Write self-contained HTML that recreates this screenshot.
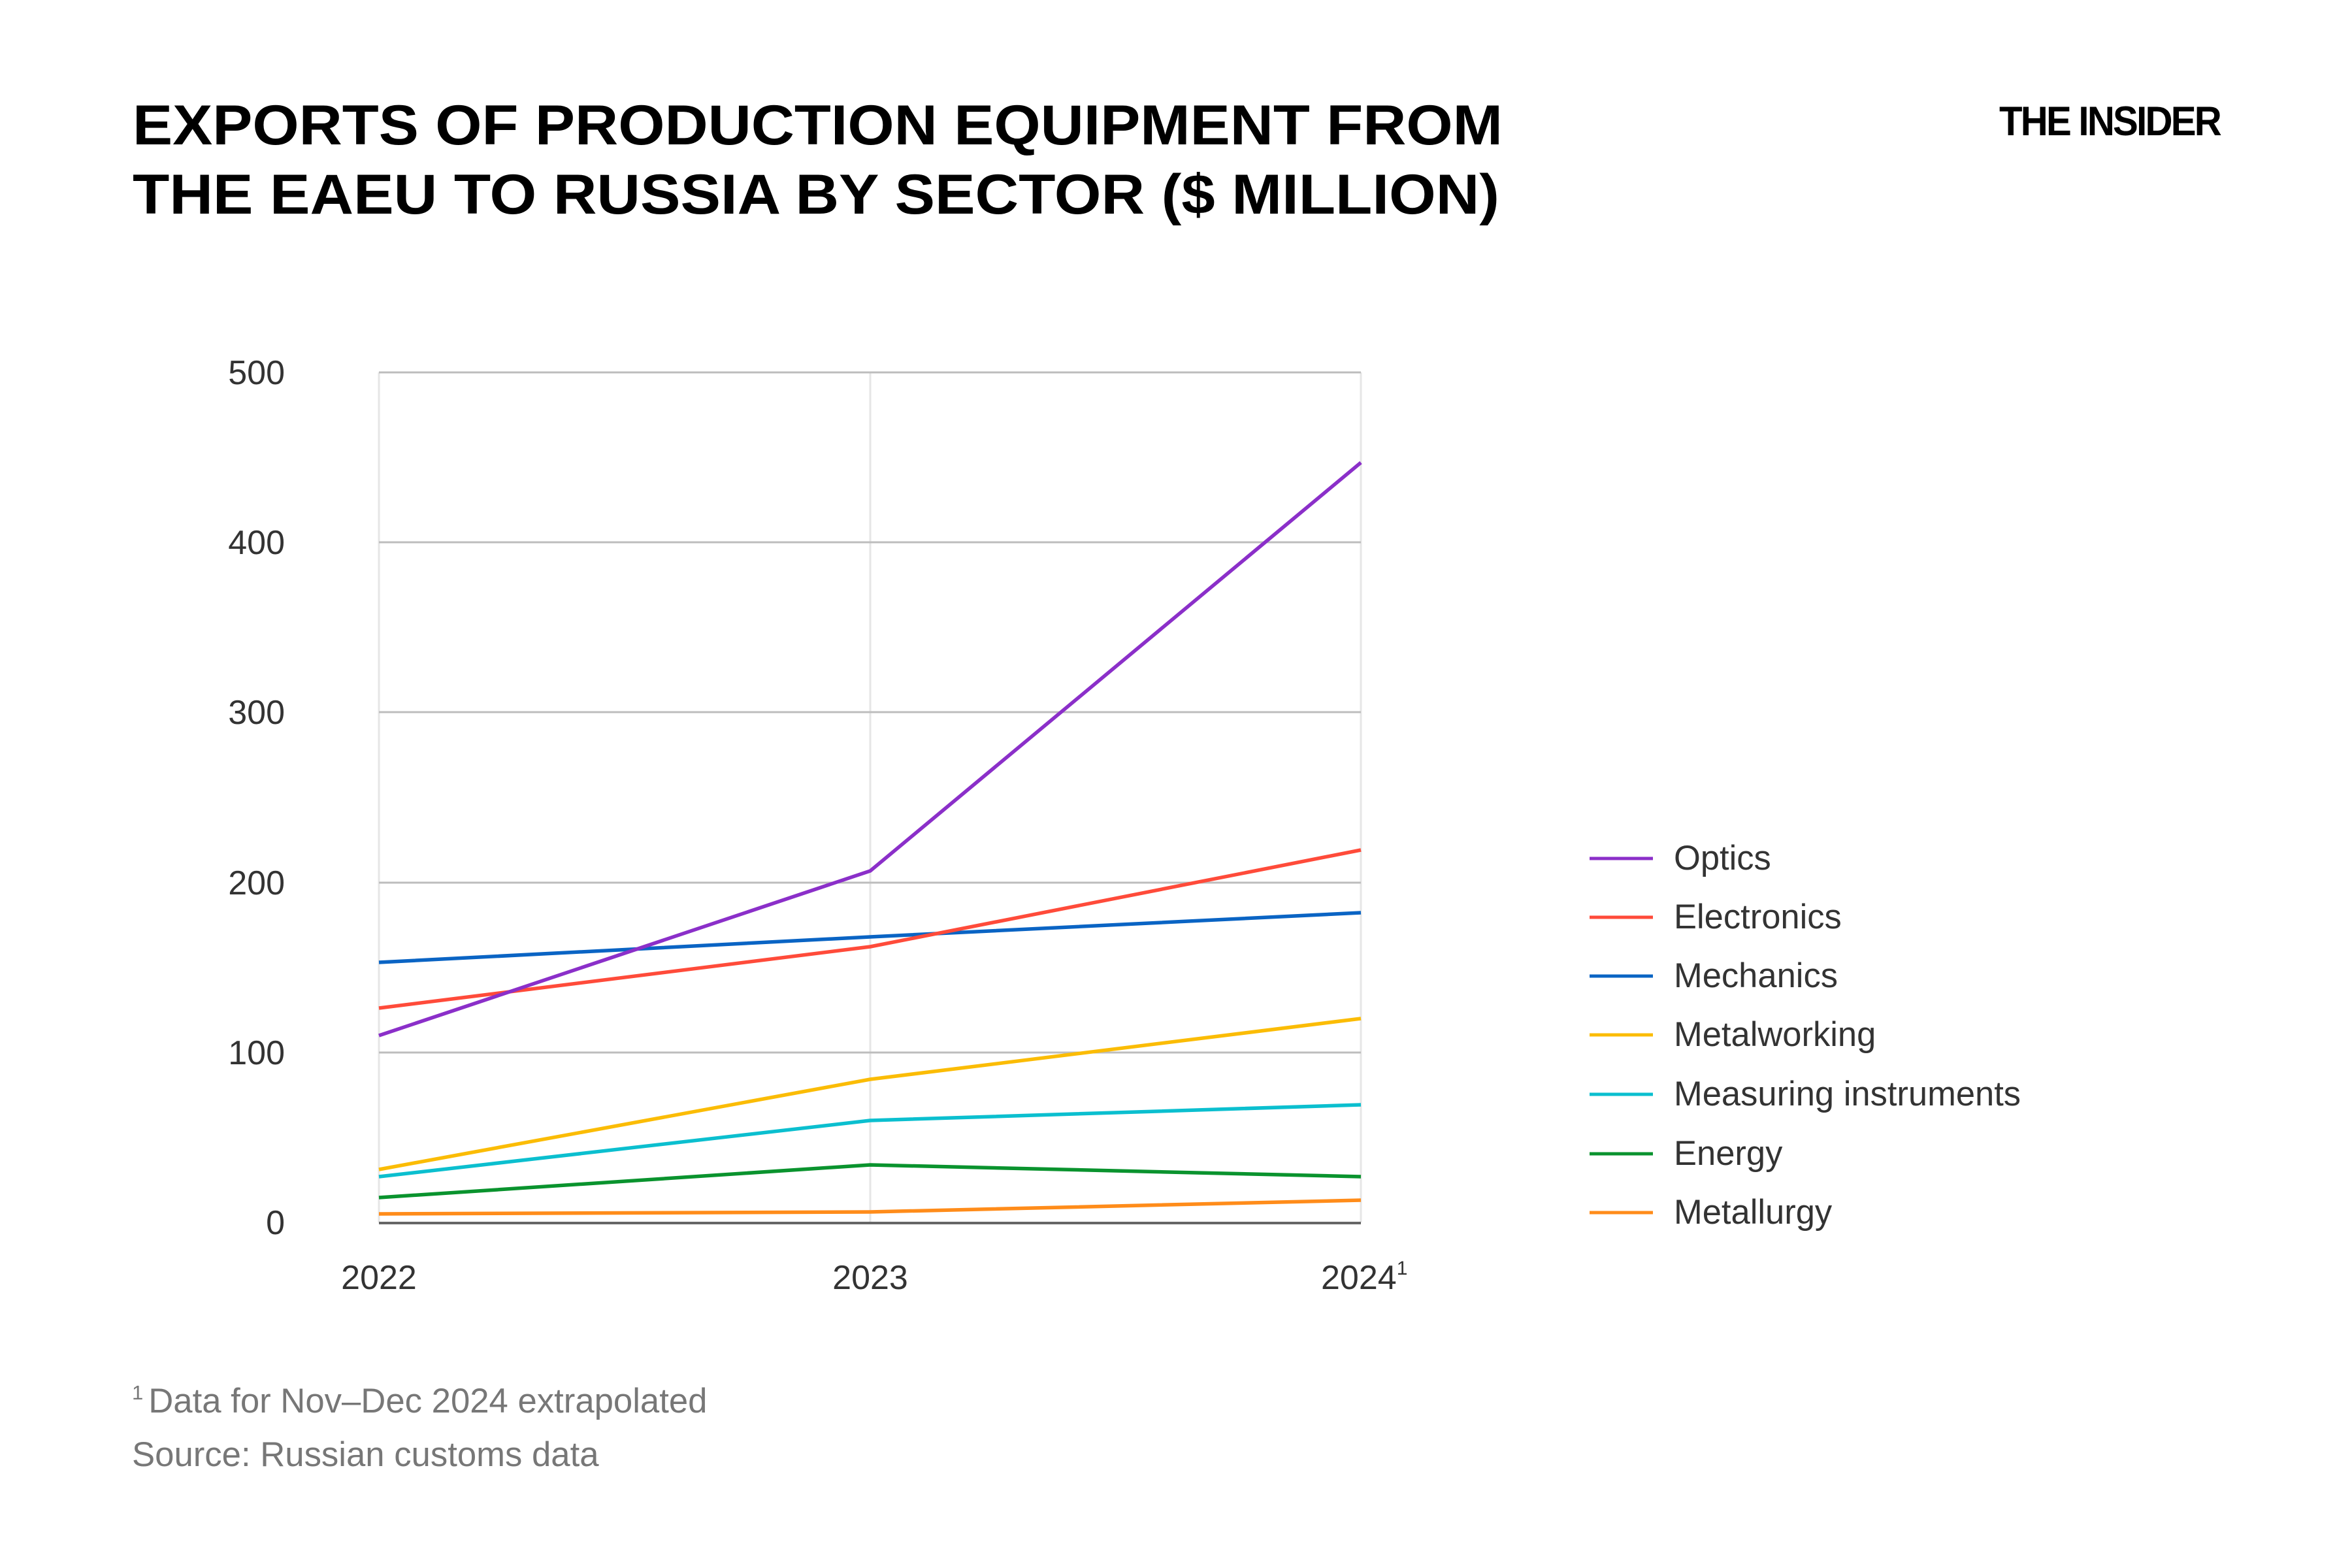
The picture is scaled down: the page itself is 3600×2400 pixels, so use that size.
<!DOCTYPE html>
<html><head><meta charset="utf-8"><style>
html,body{margin:0;padding:0;background:#fff;}
svg{display:block;}
</style></head><body>
<svg width="3600" height="2400" viewBox="0 0 3600 2400" xmlns="http://www.w3.org/2000/svg" font-family="Liberation Sans, Arial, sans-serif">
<rect width="3600" height="2400" fill="#fff"/>
<text x="203" y="221" font-size="86" font-weight="bold" fill="#000" textLength="2097" lengthAdjust="spacingAndGlyphs">EXPORTS OF PRODUCTION EQUIPMENT FROM</text>
<text x="203" y="327" font-size="86" font-weight="bold" fill="#000" textLength="2092" lengthAdjust="spacingAndGlyphs">THE EAEU TO RUSSIA BY SECTOR ($ MILLION)</text>
<text x="3060" y="207" font-size="63" font-weight="bold" fill="#000" textLength="338" lengthAdjust="spacingAndGlyphs" letter-spacing="-3">THE INSIDER</text>

<g stroke="#e6e6e6" stroke-width="3">
<line x1="580" y1="570" x2="580" y2="1871"/>
<line x1="1332" y1="570" x2="1332" y2="1871"/>
<line x1="2083" y1="570" x2="2083" y2="1871"/>
</g>
<g stroke="#bdbdbd" stroke-width="3">
<line x1="580" y1="570" x2="2083" y2="570"/>
<line x1="580" y1="830" x2="2083" y2="830"/>
<line x1="580" y1="1090" x2="2083" y2="1090"/>
<line x1="580" y1="1351" x2="2083" y2="1351"/>
<line x1="580" y1="1611" x2="2083" y2="1611"/>
</g>
<line x1="580" y1="1872" x2="2083" y2="1872" stroke="#666" stroke-width="4"/>

<g font-size="52" fill="#333" text-anchor="end">
<text x="436" y="588">500</text>
<text x="436" y="848">400</text>
<text x="436" y="1108">300</text>
<text x="436" y="1369">200</text>
<text x="436" y="1629">100</text>
<text x="436" y="1889">0</text>
</g>
<g font-size="52" fill="#333">
<text x="580" y="1973" text-anchor="middle">2022</text>
<text x="1332" y="1973" text-anchor="middle">2023</text>
<text x="2022" y="1973">2024<tspan font-size="30" dy="-22">1</tspan></text>
</g>

<g fill="none" stroke-width="5.5" stroke-linejoin="round">
<polyline stroke="#ff8c1a" points="580,1858 1332,1855 2083,1837"/>
<polyline stroke="#0a932e" points="580,1833 1332,1783 2083,1801"/>
<polyline stroke="#0bbfcf" points="580,1801 1332,1715 2083,1691"/>
<polyline stroke="#fbbc05" points="580,1790 1332,1652 2083,1559"/>
<polyline stroke="#0a64c4" points="580,1473 1332,1434 2083,1397"/>
<polyline stroke="#ff4b3a" points="580,1543 1332,1449 2083,1301"/>
<polyline stroke="#8b2fc9" points="580,1585 1332,1333 2083,708"/>
</g>

<g stroke-width="5">
<line x1="2433" y1="1314" x2="2530" y2="1314" stroke="#8b2fc9"/>
<line x1="2433" y1="1404" x2="2530" y2="1404" stroke="#ff4b3a"/>
<line x1="2433" y1="1494" x2="2530" y2="1494" stroke="#0a64c4"/>
<line x1="2433" y1="1584" x2="2530" y2="1584" stroke="#fbbc05"/>
<line x1="2433" y1="1675" x2="2530" y2="1675" stroke="#0bbfcf"/>
<line x1="2433" y1="1766" x2="2530" y2="1766" stroke="#0a932e"/>
<line x1="2433" y1="1856" x2="2530" y2="1856" stroke="#ff8c1a"/>
</g>
<g font-size="52.5" fill="#333">
<text x="2562" y="1331">Optics</text>
<text x="2562" y="1421">Electronics</text>
<text x="2562" y="1511">Mechanics</text>
<text x="2562" y="1601">Metalworking</text>
<text x="2562" y="1692">Measuring instruments</text>
<text x="2562" y="1783">Energy</text>
<text x="2562" y="1873">Metallurgy</text>
</g>

<g font-size="52.7" fill="#777">
<text x="202" y="2162"><tspan font-size="31" dy="-20">1</tspan><tspan dy="20" dx="8">Data for Nov–Dec 2024 extrapolated</tspan></text>
<text x="202" y="2244">Source: Russian customs data</text>
</g>
</svg>
</body></html>
